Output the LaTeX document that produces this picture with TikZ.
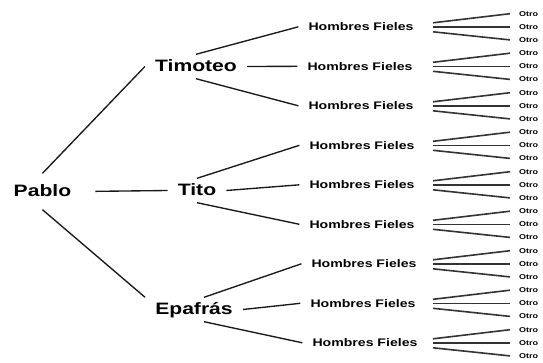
\documentclass[tikz,border=0pt]{standalone}
\usepackage{fontspec}
\setmainfont{Liberation Sans}[FakeStretch=1.28]

\tikzset{
    person/.style={font=\fontsize{16.5}{18}\selectfont\bfseries, text height=12pt, text depth=3pt,
                   minimum height=24pt, inner xsep=10pt, inner ysep=0pt},
    fieles/.style={font=\fontsize{11}{12}\selectfont\bfseries, text height=8pt, text depth=0pt,
                   inner xsep=10pt, inner ysep=3pt},
    otro/.style={font=\fontsize{7}{8}\selectfont\bfseries, anchor=west, text height=5pt, text depth=0pt,
                 inner xsep=9pt, inner ysep=1pt},
    tree/.style={line width=1.35pt, black!90},
    fan/.style={line width=1.6pt, black!80}
}

\begin{document}
\begin{tikzpicture}[x=1pt, y=-1pt]
\useasboundingbox (0, 0) rectangle (543, 362);

\begin{scope}[every node/.style={person}]
    \node (pablo) at (42.5, 191.5) [minimum height=36pt] {Pablo};
    \node (timoteo) at (196, 66.5) {Timoteo};
    \node (tito) at (197, 190.5) {Tito};
    \node (epafras) at (194, 309.5) {Epafrás};
\end{scope}

\begin{scope}[every node/.style={fieles}]
    \node (hf1) at (361, 26.8) {Hombres Fieles};
    \node (hf2) at (360, 66.3) {Hombres Fieles};
    \node (hf3) at (361, 105.8) {Hombres Fieles};
    \node (hf4) at (362, 145.3) {Hombres Fieles};
    \node (hf5) at (362, 184.8) {Hombres Fieles};
    \node (hf6) at (362, 224.3) {Hombres Fieles};
    \node (hf7) at (364, 263.8) {Hombres Fieles};
    \node (hf8) at (363, 303.3) {Hombres Fieles};
    \node (hf9) at (365, 342.8) {Hombres Fieles};
\end{scope}

\begin{scope}[every path/.style={tree}]
    \draw (pablo.north) -- (timoteo.west);
    \draw [shorten <=14pt] (pablo.east) -- (tito.west);
    \draw (pablo.south) -- (epafras.north west);

    \draw (timoteo.north) -- (hf1.west);
    \draw (timoteo.east) -- (hf2.west);
    \draw (timoteo.south) -- (hf3.west);

    \draw (tito.north) -- (hf4.west);
    \draw (tito.east) -- (hf5.west);
    \draw (tito.south) -- (hf6.west);

    \draw ([xshift=10pt]epafras.north) -- (hf7.west);
    \draw (epafras.east) -- (hf8.west);
    \draw ([xshift=10pt]epafras.south) -- (hf9.west);
\end{scope}

% three "Otro" per group
\foreach \g in {1,...,9} {
    \pgfmathsetmacro\ym{26.8+39.5*(\g-1)}
    \node [otro] (o\g-a) at (510, \ym-13.1) {Otro};
    \node [otro] (o\g-b) at (510, \ym) {Otro};
    \node [otro] (o\g-c) at (510, \ym+13.1) {Otro};
    \draw [fan] ([xshift=433pt-510pt, yshift=4pt]o\g-b.west) -- (o\g-a.west);
    \draw [fan] ([xshift=433pt-510pt]o\g-b.west) -- (o\g-b.west);
    \draw [fan] ([xshift=433pt-510pt, yshift=-5pt]o\g-b.west) -- (o\g-c.west);
}

\end{tikzpicture}
\end{document}
